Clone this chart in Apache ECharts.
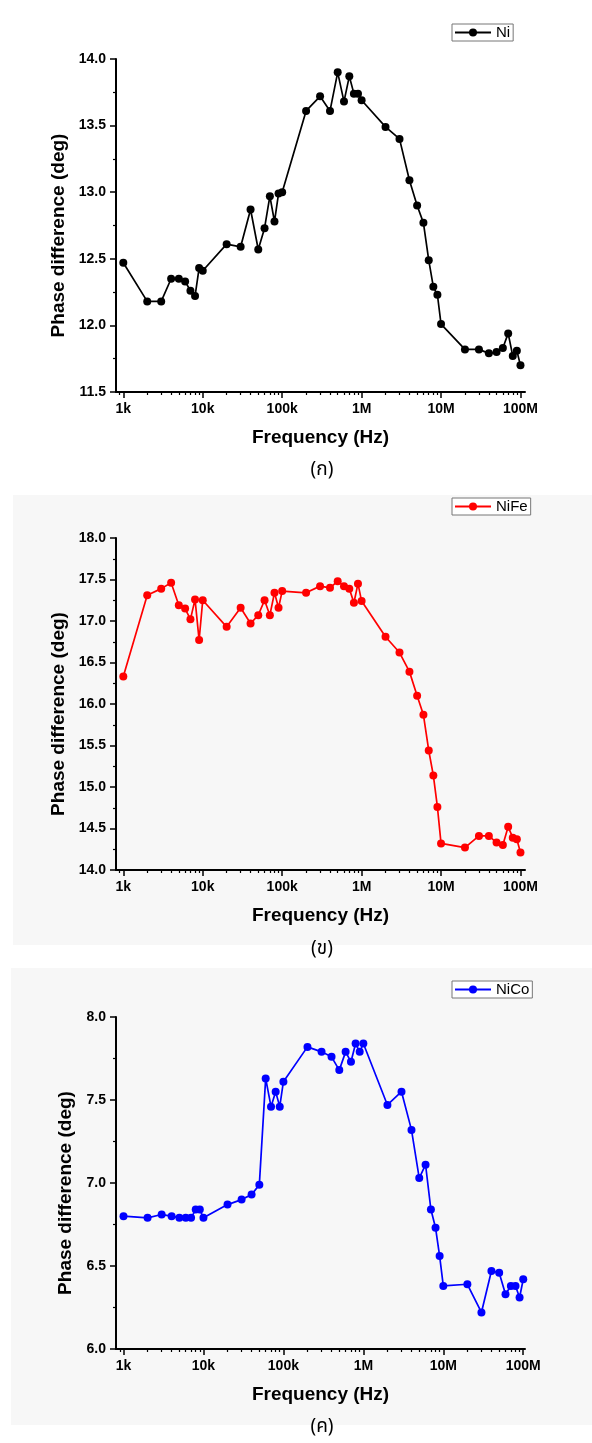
<!DOCTYPE html>
<html>
<head>
<meta charset="utf-8">
<title>Phase difference vs frequency</title>
<script src="https://cdn.jsdelivr.net/npm/echarts@6/dist/echarts.min.js"></script>
<style>
  html, body { margin: 0; padding: 0; background: #ffffff; }
  #chart { width: 592px; height: 1443px; }
</style>
</head>
<body>
<div id="chart"></div>
<script>
// Measurement frequencies (Hz), shared by the three samples
const freqHz = [
  1e3, 2e3, 3e3, 4e3, 5e3, 6e3, 7e3, 8e3, 9e3,
  1e4, 2e4, 3e4, 4e4, 5e4, 6e4, 7e4, 8e4, 9e4,
  1e5, 2e5, 3e5, 4e5, 5e5, 6e5, 7e5, 8e5, 9e5,
  1e6, 2e6, 3e6, 4e6, 5e6, 6e6, 7e6, 8e6, 9e6,
  1e7, 2e7, 3e7, 4e7, 5e7, 6e7, 7e7, 8e7, 9e7,
  1e8
];

// Phase difference (deg) for each sample
const phaseNi = [
  12.47, 12.18, 12.18, 12.35, 12.35, 12.33, 12.26, 12.22, 12.43,
  12.41, 12.61, 12.59, 12.87, 12.57, 12.73, 12.97, 12.78, 12.99,
  13.00, 13.61, 13.72, 13.61, 13.90, 13.68, 13.87, 13.74, 13.74,
  13.69, 13.49, 13.40, 13.09, 12.90, 12.77, 12.49, 12.29, 12.23,
  12.01, 11.82, 11.82, 11.79, 11.80, 11.83, 11.94, 11.77, 11.81,
  11.70
];
const phaseNiFe = [
  16.33, 17.31, 17.39, 17.46, 17.19, 17.15, 17.02, 17.26, 16.77,
  17.25, 16.93, 17.16, 16.97, 17.07, 17.25, 17.07, 17.34, 17.16,
  17.36, 17.34, 17.42, 17.40, 17.48, 17.42, 17.39, 17.22, 17.45,
  17.24, 16.81, 16.62, 16.39, 16.10, 15.87, 15.44, 15.14, 14.76,
  14.32, 14.27, 14.41, 14.41, 14.33, 14.30, 14.52, 14.39, 14.37,
  14.21
];
const phaseNiCo = [
  6.80, 6.79, 6.81, 6.80, 6.79, 6.79, 6.79, 6.84, 6.84,
  6.79, 6.87, 6.90, 6.93, 6.99, 7.63, 7.46, 7.55, 7.46,
  7.61, 7.82, 7.79, 7.76, 7.68, 7.79, 7.73, 7.84, 7.79,
  7.84, 7.47, 7.55, 7.32, 7.03, 7.11, 6.84, 6.73, 6.56,
  6.38, 6.39, 6.22, 6.47, 6.46, 6.33, 6.38, 6.38, 6.31,
  6.42
];

// Decade tick marks of the frequency axis
const tickFreqs = [1e3, 1e4, 1e5, 1e6, 1e7, 1e8];
const tickLabels = ['1k', '10k', '100k', '1M', '10M', '100M'];

// Sample names, colours, captions and y ranges
const sampleNames = ['Ni', 'NiFe', 'NiCo'];
const sampleColors = ['#000000', '#ff0000', '#0000ff'];
const captions = ['(\u0e01)', '(\u0e02)', '(\u0e04)'];
const yMins = [11.5, 14.0, 6.0];
const yMaxs = [14.0, 18.0, 8.0];
const yStep = 0.5;
const xName = 'Frequency (Hz)';
const yName = 'Phase difference (deg)';

const seriesValues = [phaseNi, phaseNiFe, phaseNiCo];

// ---- layout ----
const FONT = '"Liberation Sans", Arial, Helvetica, sans-serif';
const THAI_FONT = '"Noto Sans Thai", "Noto Sans", Tahoma, "DejaVu Sans", sans-serif';
const panelTops = [59, 538, 1017];
const panelHeights = [333, 332, 332];
const plotLeft = 116;
const plotWidth = 409;
// log10 extent of the frequency axis in each panel
const xLogMin = [2.908, 2.908, 2.906];
const xLogMax = [8.057, 8.057, 8.022];
const yNameGaps = [48, 48, 40];
const legendTops = [24, 498, 981];
const captionYs = [471, 950, 1428];

const majorPos = tickFreqs.map(f => Math.log10(f));
// minor ticks at 2..9 x 10^k, plus 900 Hz just before the first decade
const minorPos = [];
for (let e = 2; e <= 8; e++) {
  for (let m = 2; m <= 9; m++) minorPos.push(Math.log10(m * Math.pow(10, e)));
}

function labelFor(v) {
  let best = 0;
  for (let i = 1; i < majorPos.length; i++) {
    if (Math.abs(majorPos[i] - v) < Math.abs(majorPos[best] - v)) best = i;
  }
  return tickLabels[best];
}

const grids = [], xAxes = [], yAxes = [], series = [], legends = [], graphics = [];

// light panel backgrounds behind the second and third plots
graphics.push(
  { type: 'rect', z: -10, silent: true, shape: { x: 13, y: 495, width: 579, height: 450 }, style: { fill: '#f7f7f7' } },
  { type: 'rect', z: -10, silent: true, shape: { x: 11, y: 968, width: 581, height: 457 }, style: { fill: '#f7f7f7' } }
);

for (let i = 0; i < 3; i++) {
  grids.push({ left: plotLeft, top: panelTops[i], width: plotWidth, height: panelHeights[i], containLabel: false });

  const minInRange = minorPos.filter(v => v > xLogMin[i] && v < xLogMax[i]);

  // main frequency axis: decade ticks and labels
  xAxes.push({
    type: 'value', gridIndex: i, position: 'bottom',
    min: xLogMin[i], max: xLogMax[i],
    axisLine: { show: true, lineStyle: { color: '#000', width: 2 } },
    axisTick: { show: true, customValues: majorPos, length: 6, inside: false, lineStyle: { color: '#000', width: 1.5 } },
    axisLabel: {
      show: true, customValues: majorPos, formatter: labelFor, margin: 10,
      color: '#000', fontFamily: FONT, fontWeight: 'bold', fontSize: 14
    },
    splitLine: { show: false },
    name: xName, nameLocation: 'middle', nameGap: 36,
    nameTextStyle: { color: '#000', fontFamily: FONT, fontWeight: 'bold', fontSize: 19 }
  });
  // companion axis carrying the short in-decade ticks
  xAxes.push({
    type: 'value', gridIndex: i, position: 'bottom',
    min: xLogMin[i], max: xLogMax[i],
    axisLine: { show: false },
    axisTick: { show: true, customValues: minInRange, length: 3, inside: false, lineStyle: { color: '#000', width: 1.2 } },
    axisLabel: { show: false },
    splitLine: { show: false }
  });

  yAxes.push({
    type: 'value', gridIndex: i, position: 'left',
    min: yMins[i], max: yMaxs[i], interval: yStep,
    axisLine: { show: true, lineStyle: { color: '#000', width: 2 } },
    axisTick: { show: true, length: 6, inside: false, lineStyle: { color: '#000', width: 1.5 } },
    minorTick: { show: true, splitNumber: 2, length: 3, lineStyle: { color: '#000', width: 1.2 } },
    axisLabel: {
      color: '#000', fontFamily: FONT, fontWeight: 'bold', fontSize: 14, margin: 10,
      formatter: v => v.toFixed(1)
    },
    splitLine: { show: false },
    name: yName, nameLocation: 'middle', nameGap: yNameGaps[i],
    nameTextStyle: { color: '#000', fontFamily: FONT, fontWeight: 'bold', fontSize: 19, padding: [0, 20, 0, 0] }
  });

  series.push({
    name: sampleNames[i], type: 'line',
    xAxisIndex: i * 2, yAxisIndex: i,
    data: freqHz.map((f, j) => [Math.log10(f), seriesValues[i][j]]),
    symbol: 'circle', symbolSize: 8, showAllSymbol: true,
    lineStyle: { color: sampleColors[i], width: 1.7 },
    itemStyle: { color: sampleColors[i] },
    clip: false, z: 3
  });

  legends.push({
    data: [sampleNames[i]], left: 452, top: legendTops[i],
    orient: 'horizontal', itemWidth: 36, itemHeight: 10, itemGap: 0,
    padding: [1, 3, 1, 2], borderColor: '#777', borderWidth: 1, backgroundColor: '#ffffff',
    selectedMode: false,
    textStyle: { color: '#000', fontFamily: FONT, fontSize: 15 }
  });

  graphics.push({
    type: 'text', x: 322, y: captionYs[i], silent: true,
    style: { text: captions[i], fill: '#000', font: '19px ' + THAI_FONT, textAlign: 'center', textVerticalAlign: 'middle' }
  });
}

const chart = echarts.init(document.getElementById('chart'), null, { renderer: 'canvas' });
chart.setOption({
  animation: false,
  backgroundColor: '#ffffff',
  grid: grids,
  xAxis: xAxes,
  yAxis: yAxes,
  legend: legends,
  series: series,
  graphic: graphics
});
</script>
</body>
</html>
